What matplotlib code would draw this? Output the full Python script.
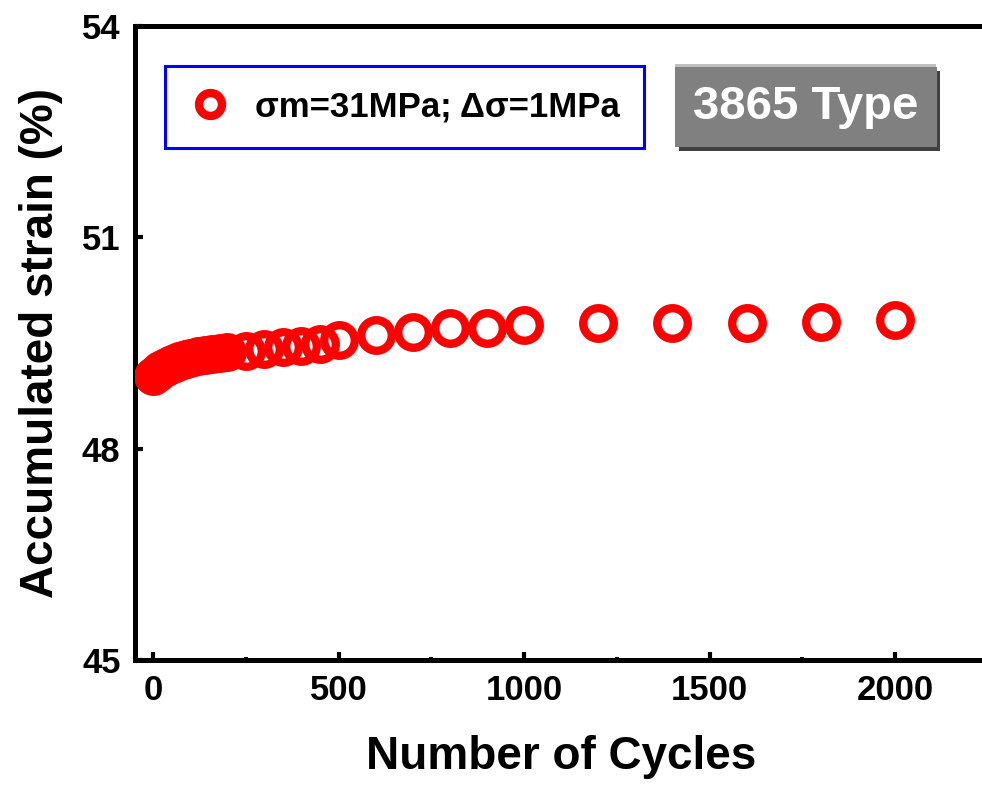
import numpy as np
import matplotlib
matplotlib.use("Agg")
import matplotlib.pyplot as plt
import matplotlib.patheffects as pe
from matplotlib.ticker import MultipleLocator

plt.rcParams['font.family'] = ['Liberation Sans', 'DejaVu Sans']
plt.rcParams['font.weight'] = 'bold'

# cycles and accumulated strain
cycles = [0, 10, 20, 30, 40, 50, 60, 70, 80, 90, 100, 120, 140, 160, 180, 200,
          250, 300, 350, 400, 450, 500, 600, 700, 800, 900, 1000,
          1200, 1400, 1600, 1800, 2000]
strain = [49.03, 49.08, 49.12, 49.15, 49.18, 49.20, 49.22, 49.24, 49.26, 49.27,
          49.28, 49.31, 49.33, 49.35, 49.36, 49.37,
          49.39, 49.41, 49.44, 49.46, 49.49, 49.54, 49.61, 49.65, 49.71, 49.72,
          49.75, 49.78, 49.79, 49.79, 49.80, 49.82]
series_label = "σm=31MPa; Δσ=1MPa"
type_label = "3865 Type"

fig = plt.figure(figsize=(9.82, 7.89), dpi=100)
ax = fig.add_axes([134.5 / 982, 1 - 660 / 789, 853.3 / 982, 634 / 789])

ax.plot(cycles, strain, 'o', ls='none', mfc='none', mec='#ff0000',
        ms=22, mew=6, label=series_label, zorder=3)

ax.set_xlim(-50, 2250)
ax.set_ylim(45, 54)
ax.xaxis.set_major_locator(MultipleLocator(500))
ax.xaxis.set_minor_locator(MultipleLocator(250))
ax.yaxis.set_major_locator(MultipleLocator(3))
ax.yaxis.set_minor_locator(MultipleLocator(1.5))

for s in ax.spines.values():
    s.set_linewidth(3.6)
ax.tick_params(which='major', direction='in', length=6, width=3,
               labelsize=25, pad=10)
ax.tick_params(which='minor', direction='in', length=2.5, width=3)
ax.tick_params(axis='y', which='both', right=False)
ax.tick_params(axis='x', which='both', top=False)
for lab in ax.get_xticklabels() + ax.get_yticklabels():
    lab.set_fontweight('bold')

ax.set_xlabel("Number of Cycles", fontsize=33, fontweight='bold', labelpad=20)
ax.set_ylabel("Accumulated strain (%)", fontsize=33, fontweight='bold', labelpad=14)

leg = ax.legend(loc='upper left', bbox_to_anchor=(0.0357, 0.937),
                borderaxespad=0, fancybox=False, edgecolor='#0000ff',
                prop={'size': 25, 'weight': 'bold'}, markerscale=0.75,
                handlelength=1.2, handletextpad=0.7, borderpad=0.7)
leg.get_frame().set_linewidth(2.2)
leg.get_frame().set_alpha(1)

# grey label box with a bevelled edge
t = ax.text(0.787, 0.872, type_label, transform=ax.transAxes, ha='center',
            va='center', color='white', fontsize=34, fontweight='bold',
            bbox=dict(boxstyle='square,pad=0.38', fc='#808080', ec='none'))
t.get_bbox_patch().set_path_effects([
    pe.SimplePatchShadow(offset=(2.5, -2.5), shadow_rgbFace='#404040', alpha=1),
    pe.SimplePatchShadow(offset=(-0.5, 2.5), shadow_rgbFace='#c0c0c0', alpha=1),
    pe.Normal()])

fig.savefig("out.png", dpi=100)
